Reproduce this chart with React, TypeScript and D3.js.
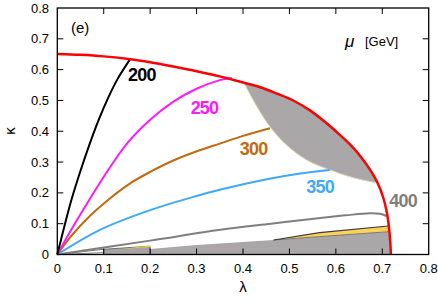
import React from "react";
import * as d3 from "d3";

type P = [number, number];

const xTicks = [0, 0.1, 0.2, 0.3, 0.4, 0.5, 0.6, 0.7, 0.8];
const yTicks = [0, 0.1, 0.2, 0.3, 0.4, 0.5, 0.6, 0.7, 0.8];
const xTickLabels = ["0", "0.1", "0.2", "0.3", "0.4", "0.5", "0.6", "0.7", "0.8"];
const yTickLabels = ["0", "0.1", "0.2", "0.3", "0.4", "0.5", "0.6", "0.7", "0.8"];

const redBoundary: P[] = [
  [0, 0.651], [0.05, 0.648], [0.1, 0.643], [0.157, 0.634], [0.2, 0.624], [0.25, 0.61],
  [0.3, 0.595], [0.35, 0.578], [0.4, 0.558], [0.437, 0.543], [0.47, 0.524], [0.509, 0.499],
  [0.545, 0.467], [0.58, 0.426], [0.6, 0.4], [0.63, 0.358], [0.655, 0.315], [0.675, 0.272],
  [0.69, 0.232], [0.702, 0.185], [0.71, 0.135], [0.715, 0.08], [0.718, 0.02], [0.7185, 0],
];

const mu200: P[] = [[0, 0], [0.01, 0.06], [0.03, 0.175], [0.05, 0.272], [0.07, 0.36], [0.09, 0.44], [0.11, 0.51], [0.13, 0.57], [0.157, 0.634]];
const mu250: P[] = [[0, 0], [0.03, 0.08], [0.07, 0.18], [0.11, 0.275], [0.15, 0.36], [0.2, 0.437], [0.25, 0.496], [0.3, 0.538], [0.35, 0.566], [0.376, 0.573]];
const mu300: P[] = [[0, 0], [0.03, 0.06], [0.07, 0.125], [0.11, 0.178], [0.157, 0.231], [0.2, 0.268], [0.25, 0.305], [0.308, 0.339], [0.35, 0.36], [0.4, 0.385], [0.458, 0.41]];
const mu350: P[] = [[0, 0], [0.092, 0.08], [0.2, 0.144], [0.3, 0.19], [0.35, 0.21], [0.454, 0.245], [0.52, 0.262], [0.587, 0.274]];
const mu400: P[] = [[0, 0], [0.2, 0.045], [0.351, 0.08], [0.46, 0.1], [0.562, 0.118], [0.62, 0.127], [0.673, 0.134], [0.695, 0.132], [0.709, 0.125]];

const lensLower: P[] = [[0.402, 0.557], [0.43, 0.48], [0.458, 0.415], [0.494, 0.355], [0.537, 0.307], [0.588, 0.274], [0.638, 0.249], [0.69, 0.232]];

const bottomSmall: P[] = [[0.1, 0], [0.1, 0.017], [0.2, 0.027], [0.2, 0]];
const bottomSmallYellow: P[] = [[0.13, 0.016], [0.2, 0.029], [0.2, 0.024]];
const bottomTop: P[] = [[0.2, 0.018], [0.3, 0.031], [0.466, 0.047], [0.565, 0.058], [0.714, 0.074]];
const yellowTop: P[] = [[0.466, 0.047], [0.565, 0.071], [0.713, 0.0925]];

const curveLabels = [
  { text: "200", x: 0.182, y: 0.583, color: "#000000" },
  { text: "250", x: 0.317, y: 0.475, color: "#ff19ff" },
  { text: "300", x: 0.423, y: 0.342, color: "#c26a0e" },
  { text: "350", x: 0.566, y: 0.219, color: "#3fa9f8" },
  { text: "400", x: 0.745, y: 0.173, color: "#7f7f7f" },
];

const W = 438, H = 300;
const x = d3.scaleLinear().domain([0, 0.8]).range([57.3, 428.7]);
const y = d3.scaleLinear().domain([0, 0.8]).range([254.5, 8]);

const smooth = d3.line<P>().x(d => x(d[0])).y(d => y(d[1])).curve(d3.curveCatmullRom.alpha(0.5));
const straight = d3.line<P>().x(d => x(d[0])).y(d => y(d[1]));

export default function App() {
  const font = "'Liberation Sans', Arial, Helvetica, sans-serif";
  const lensUpper = redBoundary.filter(p => p[0] >= 0.4 && p[0] <= 0.69).slice().reverse();
  const lensPath = (smooth(lensLower) as string) + "L" + (smooth(lensUpper) as string).slice(1) + "Z";
  const bottomPoly: P[] = [[0.2, 0], ...bottomTop, [0.718, 0]];
  const yellowPoly: P[] = [...yellowTop, ...bottomTop.filter(p => p[0] >= 0.466).slice().reverse()];
  const tickLen = 6;
  return (
    <svg width={W} height={H} style={{ position: "absolute", left: 0, top: 0, background: "#fff" }}>
      <path d={straight(bottomPoly) as string} fill="#a9a7a7" stroke="none" />
      <path d={straight(bottomSmall) as string} fill="#a5a3a3" stroke="#555" strokeWidth={0.8} />
      <path d={straight(bottomSmallYellow) as string} fill="#f4c640" stroke="none" />
      <path d={straight([[0, 0], [0.1, 0.017]]) as string} stroke="#555" strokeWidth={0.8} fill="none" />
      <path d={straight([[0, 0], [0.1, 0.006]]) as string} stroke="#555" strokeWidth={0.8} fill="none" />
      <path d={straight(yellowPoly) as string + "Z"} fill="#fcd25a" stroke="none" />
      <path d={straight(bottomTop.filter(p => p[0] >= 0.466)) as string} stroke="#777" strokeWidth={1} fill="none" />
      <path d={straight(yellowTop) as string} stroke="#3a3a3a" strokeWidth={1.2} fill="none" />
      <path d={lensPath} fill="#a9a7a7" stroke="none" />
      <path d={smooth(lensLower) as string} fill="none" stroke="#dcd6b0" strokeWidth={1} />
      <path d={smooth(mu400) as string} fill="none" stroke="#7f7f7f" strokeWidth={2} />
      <path d={smooth(mu350) as string} fill="none" stroke="#3fa9f8" strokeWidth={2} />
      <path d={smooth(mu300) as string} fill="none" stroke="#c26a0e" strokeWidth={2} />
      <path d={smooth(mu250) as string} fill="none" stroke="#ff19ff" strokeWidth={2} />
      <path d={smooth(mu200) as string} fill="none" stroke="#000000" strokeWidth={2} />
      <path d={smooth(redBoundary) as string} fill="none" stroke="#ff0000" strokeWidth={2.5} />
      <rect x={x(0)} y={y(0.8)} width={x(0.8) - x(0)} height={y(0) - y(0.8)} fill="none" stroke="#000" strokeWidth={1.3} />
      {xTicks.slice(1, -1).map(t => (
        <g key={"xt" + t}>
          <line x1={x(t)} x2={x(t)} y1={y(0)} y2={y(0) - tickLen} stroke="#000" strokeWidth={1} />
          <line x1={x(t)} x2={x(t)} y1={y(0.8)} y2={y(0.8) + tickLen} stroke="#000" strokeWidth={1} />
        </g>
      ))}
      {yTicks.slice(1, -1).map(t => (
        <g key={"yt" + t}>
          <line x1={x(0)} x2={x(0) + tickLen} y1={y(t)} y2={y(t)} stroke="#000" strokeWidth={1} />
          <line x1={x(0.8)} x2={x(0.8) - tickLen} y1={y(t)} y2={y(t)} stroke="#000" strokeWidth={1} />
        </g>
      ))}
      {xTicks.map((t, i) => (
        <text key={"xl" + t} x={x(t)} y={273} textAnchor="middle" fontFamily={font} fontSize={13} fill="#000">{xTickLabels[i]}</text>
      ))}
      {yTicks.map((t, i) => (
        <text key={"yl" + t} x={49} y={y(t) + 4.6} textAnchor="end" fontFamily={font} fontSize={13} fill="#000">{yTickLabels[i]}</text>
      ))}
      <text x={243} y={292} textAnchor="middle" fontFamily={font} fontSize={15} fill="#000">λ</text>
      <text transform="translate(15,131) rotate(-90)" textAnchor="middle" fontFamily={font} fontSize={15} fill="#000">κ</text>
      <text x={71} y={33} fontFamily={font} fontSize={15} fill="#000">(e)</text>
      <text x={345} y={47} fontFamily={font} fontSize={17} fontStyle="italic" fill="#000">μ</text>
      <text x={365} y={46} fontFamily={font} fontSize={13} fill="#000">[GeV]</text>
      {curveLabels.map(l => (
        <text key={l.text} x={x(l.x)} y={y(l.y) + 6.3} textAnchor="middle" fontFamily={font} fontSize={18} fontWeight="bold" letterSpacing={-0.8} fill={l.color}>{l.text}</text>
      ))}
    </svg>
  );
}
